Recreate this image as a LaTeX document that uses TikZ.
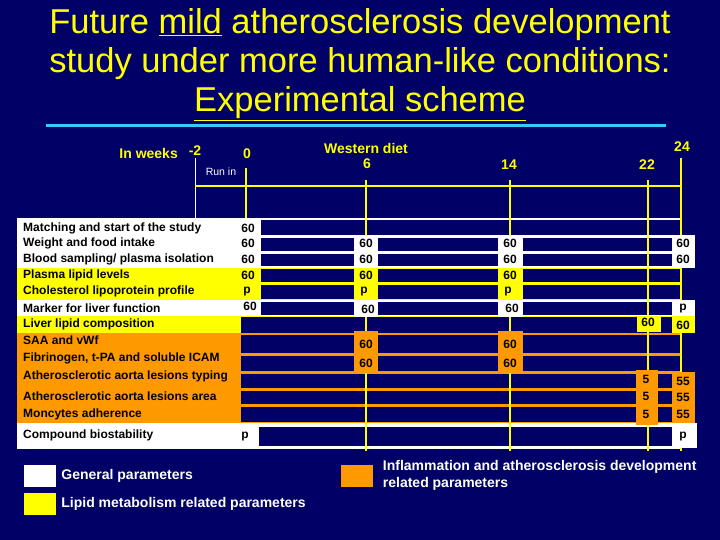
\documentclass[tikz,border=0pt]{standalone}
\usepackage{fontspec}
\setmainfont{Liberation Sans}
\usepackage{xcolor}
\usepackage{tikz}
\usetikzlibrary{positioning}

\definecolor{navy}{RGB}{0,0,102}
\definecolor{hiyel}{RGB}{255,255,0}
\definecolor{hiorg}{RGB}{255,153,0}
\definecolor{rulebl}{RGB}{51,204,255}

\begin{document}
\begin{tikzpicture}[x=1pt, y=-1pt,
    title/.style={align=center, text=hiyel, inner sep=0pt,
                  font=\fontsize{34.5}{39}\selectfont},
    tick/.style={text=hiyel, inner sep=0pt, font=\fontsize{14}{16}\selectfont\bfseries},
    rowlabel/.style={anchor=west, inner sep=0pt, text=black,
                     font=\fontsize{12}{14}\selectfont\bfseries},
    val/.style={inner sep=0pt, text=black, font=\fontsize{12}{14}\selectfont\bfseries},
    tline/.style={hiyel, line width=2.5pt},
    legbox/.style={minimum width=32pt, minimum height=22pt, inner sep=0pt},
    legtext/.style={align=left, text=white, inner sep=0pt,
                    font=\fontsize{14}{17}\selectfont\bfseries}
  ]
    % background and title
    \fill[navy] (0,0) rectangle (720,540);
    \node[title] (head) at (360,65) {Future \underline{mild} atherosclerosis development\\
      study under more human-like conditions:\\ \underline{Experimental scheme}};
    \draw[rulebl, line width=3pt] (46,126) -- (666,126);

    % time axis
    \node[tick, anchor=east] (weeks) at (178,153) {In weeks};
    \node[tick] (tm2) at (195,151) {-2};
    \node[tick] (t0) at (247,154) {0};
    \node[text=white, inner sep=0pt, font=\fontsize{10.5}{12}\selectfont] (runin) at (221,172) {Run in};
    \node[tick] (diet) at (366,148) {Western diet};
    \node[tick] (t6) at (367,164) {6};
    \node[tick] (t14) at (509,165) {14};
    \node[tick] (t22) at (647,165) {22};
    \node[tick] (t24) at (682,147) {24};

    % row bands with dark insets
    \fill[white] (17,218) rectangle (681,236.3);   \fill[navy] (261,220) rectangle (679.5,235);
    \fill[white] (17,236.3) rectangle (681,252);   \fill[navy] (261,237.5) rectangle (679.5,250.5);
    \fill[white] (17,252) rectangle (681,267.5);   \fill[navy] (261,253.5) rectangle (679.5,266);
    \fill[hiyel] (17,267.5) rectangle (681,283.5); \fill[navy] (261,269) rectangle (679.5,282);
    \fill[hiyel] (17,283.5) rectangle (681,300);   \fill[navy] (261,285) rectangle (679.5,298.5);
    \fill[white] (17,300) rectangle (681,316);     \fill[navy] (261,301.5) rectangle (679.5,314.5);
    \fill[hiyel] (17,316) rectangle (681,332.5);   \fill[navy] (241,317) rectangle (679.5,332.5);
    \fill[hiorg] (17,332.5) rectangle (681,355);   \fill[navy] (241,334.5) rectangle (679.5,353.3);
    \fill[hiorg] (17,355) rectangle (681,372.5);   \fill[navy] (241,356.3) rectangle (679.5,371);
    \fill[hiorg] (17,372.5) rectangle (681,389);   \fill[navy] (241,374) rectangle (679.5,387.5);
    \fill[hiorg] (17,389) rectangle (681,405.5);   \fill[navy] (241,390.5) rectangle (679.5,404);
    \fill[hiorg] (17,405.5) rectangle (681,423);   \fill[navy] (241,407) rectangle (679.5,422);
    \fill[white] (17,423) rectangle (681,449);     \fill[navy] (259,427) rectangle (677,445.5);

    % week lines
    \draw[white, line width=1pt] (195,158) -- (195,218);
    \draw[tline] (246,168) -- (246,218);
    \draw[hiyel, line width=2pt] (195,186) -- (681,186);
    \draw[tline] (366,180) -- (366,451);
    \draw[tline] (510,180) -- (510,451);
    \draw[tline] (648,180) -- (648,451);
    \draw[tline] (681,158) -- (681,451);

    % sampling cells
    \fill[white] (354,236) rectangle (378,267.5);  \fill[hiyel] (354,267.5) rectangle (378,300);
    \fill[white] (354,300) rectangle (378,316.5);  \fill[hiorg] (354,331) rectangle (378,372.5);
    \fill[white] (498,236) rectangle (523,267.5);  \fill[hiyel] (498,267.5) rectangle (523,300);
    \fill[white] (498,300) rectangle (523,316.5);  \fill[hiorg] (498,331) rectangle (523,372.5);
    \fill[hiyel] (637,315.5) rectangle (661,332);  \fill[hiorg] (636,370) rectangle (658,425);
    \fill[white] (672,235) rectangle (695,267.5);  \fill[white] (672,300) rectangle (695,316);
    \fill[hiyel] (672,316) rectangle (695,333);    \fill[hiorg] (672,372) rectangle (695,423);
    \fill[white] (672,423) rectangle (697,448);

    % parameters
    \node[rowlabel] (lab1) at (23,228) {Matching and start of the study};
    \node[rowlabel] (lab2) at (23,243.5) {Weight and food intake};
    \node[rowlabel] (lab3) at (23,259.5) {Blood sampling/ plasma isolation};
    \node[rowlabel] (lab4) at (23,275.5) {Plasma lipid levels};
    \node[rowlabel] (lab5) at (23,291.5) {Cholesterol lipoprotein profile};
    \node[rowlabel] (lab6) at (23,308) {Marker for liver function};
    \node[rowlabel] (lab7) at (23,324) {Liver lipid composition};
    \node[rowlabel] (lab8) at (23,340) {SAA and vWf};
    \node[rowlabel] (lab9) at (23,358) {Fibrinogen, t-PA and soluble ICAM};
    \node[rowlabel] (lab10) at (23,376.5) {Atherosclerotic aorta lesions typing};
    \node[rowlabel] (lab11) at (23,396.5) {Atherosclerotic aorta lesions area};
    \node[rowlabel] (lab12) at (23,414) {Moncytes adherence};
    \node[rowlabel] (lab13) at (23,435.5) {Compound biostability};

    % values, week 0
    \node[val] (a1) at (248,228) {60};
    \node[val] (a2) at (248,243.5) {60};
    \node[val] (a3) at (248,259.5) {60};
    \node[val] (a4) at (248,275.5) {60};
    \node[val] (a5) at (247,291.5) {p};
    \node[val] (a6) at (250,306) {60};
    \node[val] (a13) at (245,436.5) {p};
    % values, week 6
    \node[val] (b2) at (366,243.5) {60};
    \node[val] (b3) at (366,259.5) {60};
    \node[val] (b4) at (366,275.5) {60};
    \node[val] (b5) at (364,291.5) {p};
    \node[val] (b6) at (368,309) {60};
    \node[val] (b8) at (366,344) {60};
    \node[val] (b9) at (366,363) {60};
    % values, week 14
    \node[val] (c2) at (510,243.5) {60};
    \node[val] (c3) at (510,259.5) {60};
    \node[val] (c4) at (510,275.5) {60};
    \node[val] (c5) at (508,291.5) {p};
    \node[val] (c6) at (512,308) {60};
    \node[val] (c8) at (510,344) {60};
    \node[val] (c9) at (510,363) {60};
    % values, week 22
    \node[val] (d7) at (648,322) {60};
    \node[val] (d10) at (646,379.5) {5};
    \node[val] (d11) at (646,396.5) {5};
    \node[val] (d12) at (646,414) {5};
    % values, week 24
    \node[val] (e2) at (683,243.5) {60};
    \node[val] (e3) at (683,259.5) {60};
    \node[val] (e6) at (683,309) {p};
    \node[val] (e7) at (683,325) {60};
    \node[val] (e10) at (683,381) {55};
    \node[val] (e11) at (683,397) {55};
    \node[val] (e12) at (683,414.5) {55};
    \node[val] (e13) at (683,436.5) {p};

    % legend
    \node[legbox, fill=white] (kgen) at (40,475.5) {};
    \node[legtext, anchor=west, right=5pt of kgen] (tgen) {General parameters};
    \node[legbox, fill=hiyel] (klip) at (40,503.5) {};
    \node[legtext, anchor=west, right=5pt of klip] (tlip) {Lipid metabolism related parameters};
    \node[legbox, fill=hiorg] (kinf) at (356.5,475.5) {};
    \node[legtext, anchor=west, right=10pt of kinf] (tinf) {Inflammation and atherosclerosis development\\related parameters};
  \end{tikzpicture}
\end{document}
